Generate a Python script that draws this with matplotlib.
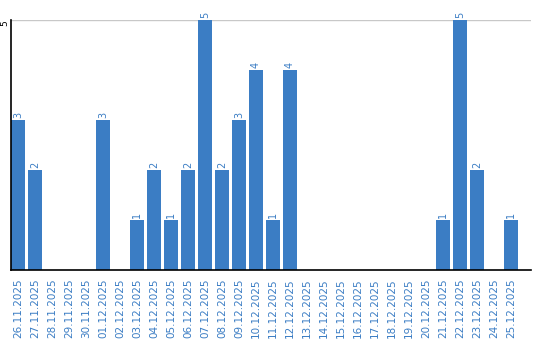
import matplotlib
matplotlib.use("Agg")
import matplotlib.pyplot as plt

dates = ["26.11.2025", "27.11.2025", "28.11.2025", "29.11.2025", "30.11.2025",
         "01.12.2025", "02.12.2025", "03.12.2025", "04.12.2025", "05.12.2025",
         "06.12.2025", "07.12.2025", "08.12.2025", "09.12.2025", "10.12.2025",
         "11.12.2025", "12.12.2025", "13.12.2025", "14.12.2025", "15.12.2025",
         "16.12.2025", "17.12.2025", "18.12.2025", "19.12.2025", "20.12.2025",
         "21.12.2025", "22.12.2025", "23.12.2025", "24.12.2025", "25.12.2025"]
counts = [3, 2, 0, 0, 0, 3, 0, 1, 2, 1, 2, 5, 2, 3, 4, 1, 4,
          0, 0, 0, 0, 0, 0, 0, 0, 1, 5, 2, 0, 1]

blue = "#3b7dc4"

fig = plt.figure(figsize=(5.4, 3.4), dpi=100)
# axes: left 11px, right 531px, bottom 270px, top 20px (value 5)
ax = fig.add_axes([11 / 540, 70 / 340, 520 / 540, 250 / 340])

x = list(range(len(dates)))
ax.bar(x, counts, width=0.82, color=blue, zorder=2)
for xi, c in zip(x, counts):
    if c > 0:
        ax.text(xi, c + 0.05, str(c), rotation=90, ha="center", va="bottom",
                fontsize=7, color=blue)

ax.set_xlim(-0.41, 30.18)
ax.set_ylim(0, 5)
ax.set_yticks([5])
ax.set_yticklabels(["5"], rotation=90, va="top", fontsize=6.5)
ax.axhline(5, color="#c8c8c8", lw=1, zorder=1)
ax.tick_params(axis="y", length=0, pad=1)

ax.set_xticks(x)
ax.set_xticklabels(dates, rotation=90, fontsize=7.5, color=blue)
ax.tick_params(axis="x", length=0, pad=6)

for s in ["top", "right"]:
    ax.spines[s].set_visible(False)
ax.spines["left"].set_linewidth(1.2)
ax.spines["bottom"].set_linewidth(1.2)

fig.savefig("out.png", dpi=100)
